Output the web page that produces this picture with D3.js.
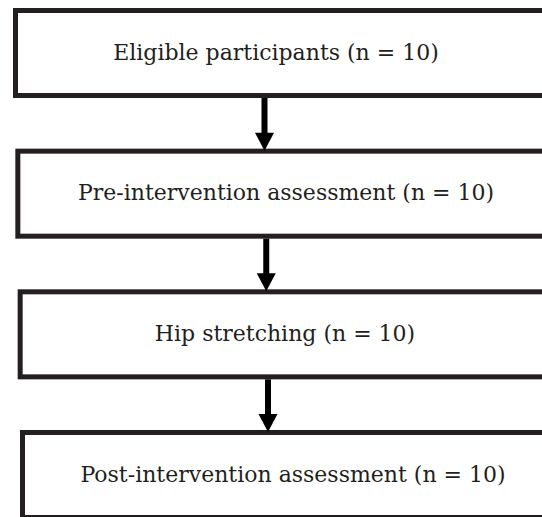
<!DOCTYPE html>
<html>
<head>
<meta charset="utf-8">
<script src="https://cdn.jsdelivr.net/npm/d3@7"></script>
<style>
  body { margin: 0; background: #fff; }
  svg { display: block; }
</style>
</head>
<body>
<div class="flow"></div>
<script>
// steps of the study flow
const steps = ["Eligible participants", "Pre-intervention assessment", "Hip stretching", "Post-intervention assessment"];
const counts = [10, 10, 10, 10];

const outerWidth = 542, outerHeight = 517;
const ink = "#231f20";
const border = 5;

let svg = d3.select(".flow").append("svg")
    .attr("width", outerWidth)
    .attr("height", outerHeight);

// vertical layout: one band per step
const yScale = d3.scaleBand()
    .domain(steps)
    .range([8, 520])
    .paddingInner(0.36)
    .paddingOuter(0);

// the scan is a bit skewed, so left edges / arrows drift right going down
const leftScale = d3.scaleLinear().domain([0, 3]).range([13, 20]);
const arrowScale = d3.scaleLinear().domain([0, 2]).range([264.5, 268]);
const textScale = d3.scaleOrdinal().domain(steps).range([276, 286, 285, 293]);

// boxes (right side runs off the page)
svg.selectAll("rect.box")
    .data(steps)
    .enter()
    .append("rect")
    .attr("class", "box")
    .attr("x", (d, i) => leftScale(i) + border / 2)
    .attr("y", d => yScale(d) + border / 2)
    .attr("width", 700)
    .attr("height", yScale.bandwidth() - border)
    .attr("fill", "none")
    .attr("stroke", ink)
    .attr("stroke-width", border);

svg.selectAll("text.label")
    .data(steps)
    .enter()
    .append("text")
    .attr("class", "label")
    .attr("x", d => textScale(d))
    .attr("y", d => yScale(d) + yScale.bandwidth() / 2 - 1)
    .attr("dy", "0.35em")
    .attr("text-anchor", "middle")
    .attr("font-family", "'DejaVu Serif', serif")
    .attr("font-size", 22)
    .attr("fill", ink)
    .text((d, i) => d + " (n = " + counts[i] + ")");

// arrows between consecutive boxes
const headLen = 18, headHalf = 9.5;
const links = d3.pairs(steps);

svg.selectAll("line.shaft")
    .data(links)
    .enter()
    .append("line")
    .attr("class", "shaft")
    .attr("x1", (d, i) => arrowScale(i))
    .attr("x2", (d, i) => arrowScale(i))
    .attr("y1", d => yScale(d[0]) + yScale.bandwidth())
    .attr("y2", d => yScale(d[1]) + 2 - headLen + 1)
    .attr("stroke", "#000")
    .attr("stroke-width", 6);

svg.selectAll("path.head")
    .data(links)
    .enter()
    .append("path")
    .attr("class", "head")
    .attr("d", (d, i) => {
        let x = arrowScale(i), tip = yScale(d[1]) + 2;
        return `M${x - headHalf},${tip - headLen}L${x + headHalf},${tip - headLen}L${x},${tip}Z`;
    })
    .attr("fill", "#000");
</script>
</body>
</html>
